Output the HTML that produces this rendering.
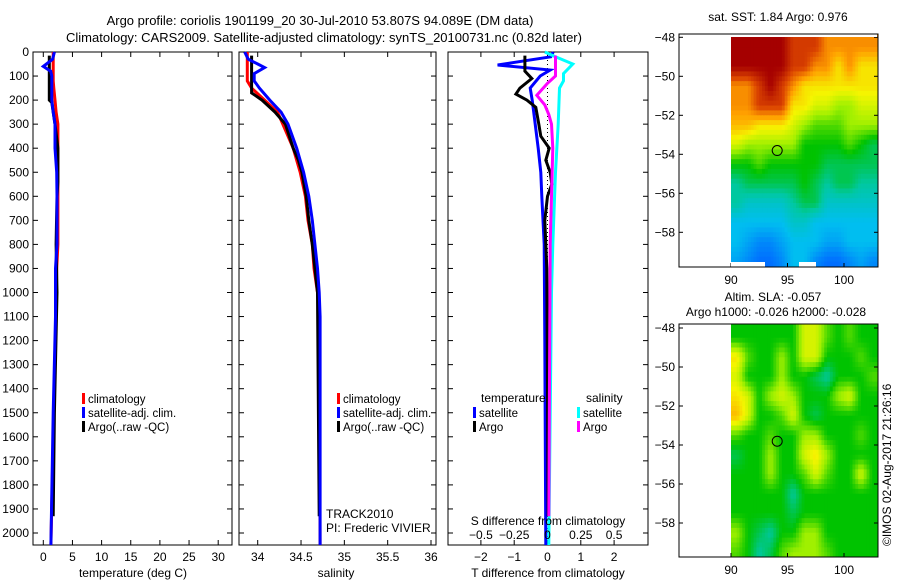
<!DOCTYPE html>
<html><head><meta charset="utf-8">
<style>
html,body{margin:0;padding:0;background:#fff;}
svg{display:block;font-family:"Liberation Sans",sans-serif;}
text{font-size:12px;fill:#000;}
</style></head>
<body>
<svg id="chart" width="900" height="580" viewBox="0 0 900 580" xmlns="http://www.w3.org/2000/svg">
<text x="320" y="25" text-anchor="middle" style="font-size:13px">Argo profile: coriolis 1901199_20 30-Jul-2010 53.807S 94.089E (DM data)</text>
<text x="324" y="42" text-anchor="middle" style="font-size:13px">Climatology: CARS2009. Satellite-adjusted climatology: synTS_20100731.nc (0.82d later)</text>
<g id="p1"></g>
<g id="p2"></g>
<g id="p3"></g>
<g id="m1"></g>
<g id="m2"></g>
<text transform="translate(891,546) rotate(-90)" style="font-size:12px">©IMOS 02-Aug-2017 21:26:16</text>
</svg>
<script>
// ---- profile data ----
const tClimDepth = [0,120,150,200,250,300,400,500,600,700,800,900,1100,1500,2050];
const tClim = [1.7,1.7,1.8,2.0,2.2,2.5,2.5,2.5,2.5,2.5,2.5,2.3,2.2,1.8,1.3];
const tSatDepth = [0,30,60,80,100,200,250,300,400,500,600,800,900,1100,1500,2050];
const tSat = [1.9,1.6,0.0,1.27,1.45,1.45,1.7,2.0,2.0,2.3,2.35,2.35,2.1,2.1,1.7,1.3];
const tArgoDepth = [15,200,210,300,400,540,600,800,1000,1500,1930];
const tArgo = [1.03,1.03,1.45,2.0,2.5,2.5,2.35,2.2,2.35,1.9,1.7];

const sClimDepth = [0,120,150,200,250,300,400,500,600,700,800,900,1000,1100,2050];
const sClim = [33.88,33.88,33.93,34.08,34.23,34.29,34.41,34.49,34.55,34.58,34.63,34.65,34.69,34.71,34.72];
const sSatDepth = [0,30,50,65,90,120,150,200,250,300,400,500,600,700,800,900,1000,1100,2050];
const sSat = [33.85,33.89,34.0,34.08,33.96,33.96,34.02,34.14,34.27,34.35,34.45,34.53,34.59,34.63,34.66,34.69,34.71,34.72,34.72];
const sArgoDepth = [15,170,180,200,250,300,400,450,500,600,700,800,1000,1930];
const sArgo = [33.93,33.93,33.97,34.05,34.2,34.32,34.41,34.47,34.51,34.56,34.59,34.63,34.69,34.71];

const dTSatDepth = [0,20,54,75,100,150,200,300,400,500,600,800,1200,2050];
const dTSat = [0.17,0.1,-1.5,0.08,-0.22,-0.52,-0.46,-0.37,-0.28,-0.2,-0.17,-0.1,-0.08,-0.05];
const dTArgoDepth = [15,80,110,150,175,200,230,300,350,400,450,500,550,600,700,900,1930];
const dTArgo = [-0.68,-0.68,-0.47,-0.83,-0.95,-0.62,-0.35,-0.26,-0.2,0.05,-0.05,0.08,0.13,0,-0.08,-0.02,0.02];
const dSSatDepth = [0,20,50,90,120,150,300,500,800,1000,2050];
const dSSat = [-0.02,0.06,0.19,0.12,0.12,0.09,0.08,0.06,0.04,0.03,0.01];
const dSArgoDepth = [15,100,130,180,220,260,300,400,600,800,1930];
const dSArgo = [0.06,0.06,0,-0.08,-0.02,0.01,0.03,0.04,0.03,0.02,0.01];

const depthTicks = [0,100,200,300,400,500,600,700,800,900,1000,1100,1200,1300,1400,1500,1600,1700,1800,1900,2000];
const tempTicks = [0,5,10,15,20,25,30];
const salTicks = [34,34.5,35,35.5,36];
const salTickLabels = ["34","34.5","35","35.5","36"];
const dTTicks = [-2,-1,0,1,2];
const dSTicks = [-0.5,-0.25,0,0.25,0.5];
const dSTickLabels = ["-0.5","-0.25","0","0.25","0.5"];

// ---- map data (index 0..10 on colour ramp), rows lat -48..-59, cols lon 90..102 ----
const mapLons = [90,91,92,93,94,95,96,97,98,99,100,101,102];
const mapLats = [-48,-49,-50,-51,-52,-53,-54,-55,-56,-57,-58,-59];
const sstGrid = [
[10,10,10,10,10,9,9,9,8,8,8,8,8],
[10,10,10,10,10,9,9,8,8,7,8,7,7],
[8,8,9,10,9,8,7,7,7,7,7,7,7],
[8,8,9,9,9,7,7,6.5,6.5,6,6,6.5,6.5],
[7.5,7.5,7,7,7,6.5,6,5.5,5.5,5.5,6,6,6],
[6.5,6,6,6,6,6,5,5,5,5,5.5,5,4.5],
[5,5,5.5,5,5,5,5,5,4.5,4.5,4.5,4.5,4.5],
[4,4.5,4.5,4.5,4.5,4.5,5,4.5,4,4.5,4.5,4,4],
[4,3.5,3.5,3.5,3.5,4,4.5,4.5,3.5,3.5,3.5,3.5,3.5],
[3,3,3,3,3,3.5,3.5,3,3,3,3,3,3],
[3,2.5,2,2,2.5,3,3,3,2.5,2.5,3,3,3],
[2.5,2,1.5,1.5,2,3,3,2,1.5,1.5,2,2.5,2]
];
const slaGrid = [
[5,5,5,5,5,5,6.5,6.5,5.5,5,5.5,5,5],
[7,5.5,5,5,6,5,6.5,6.5,5,5,5,5.5,5],
[6.5,5,5,5,6,5,5,4.5,4,5,5,5,5.5],
[7,6.5,5,6,6.5,6,5,5,5,6,6.5,5,5],
[7.5,6.5,5,5,5.5,6.5,5,4.5,5,5,5,5,5],
[5.5,5,5,5.5,5,5,6,6,5,5,5,5.5,5],
[4.5,5,5,6,5,5,6.5,7,6,5,5,5,5],
[5,5,5,6,5,5,5.5,6.5,5.5,5,5,6.5,5],
[5,5,5,5,5,4,5,5,5,5,5,5,5],
[5,5,5,5,5,4.5,5,5,5,5,5,5,5],
[6,5,4.5,4,5,5,6,6,5,5,5,5,5],
[5.5,5,4,4.5,5.5,6,6,6,5.5,5,5,5,5]
];
const mapLatTicks = [-48,-50,-52,-54,-56,-58];
const mapLonTicks = [90,95,100];
const argoLon = 94.089, argoLat = -53.807;

const NS = "http://www.w3.org/2000/svg";
function mk(parent, tag, attrs, txt){
  const e = document.createElementNS(NS, tag);
  for (const k in attrs) e.setAttribute(k, attrs[k]);
  if (txt !== undefined) e.textContent = txt;
  parent.appendChild(e);
  return e;
}
const Y0 = 52, Y1 = 545;
const yD = d => Y0 + d * 0.2405;

function frame(g, x0, x1, xTicks, xScale, name){
  const r = mk(g,'rect',{x:x0,y:Y0,width:x1-x0,height:Y1-Y0,fill:'none',stroke:'#000','stroke-width':1});
  
  
  depthTicks.forEach(d=>{
    const t1 = mk(g,'line',{x1:x0,x2:x0+5,y1:yD(d),y2:yD(d),stroke:'#000'});
    
    
    const t2 = mk(g,'line',{x1:x1-5,x2:x1,y1:yD(d),y2:yD(d),stroke:'#000'});
    
    
  });
  xTicks.forEach(v=>{
    const x = xScale(v);
    const a = mk(g,'line',{x1:x,x2:x,y1:Y1,y2:Y1-5,stroke:'#000'});
    
    
    const b = mk(g,'line',{x1:x,x2:x,y1:Y0,y2:Y0+5,stroke:'#000'});
    
    
  });
}
function line(g, xs, ds, xScale, color, name){
  const pts = xs.map((v,i)=>xScale(v).toFixed(1)+','+yD(ds[i]).toFixed(1)).join(' ');
  const p = mk(g,'polyline',{points:pts,fill:'none',stroke:color,'stroke-width':3,'stroke-linejoin':'miter'});
  
  
}
function legend(g, x, y, color, label, name){
  const r = mk(g,'rect',{x:x,y:y-6,width:3,height:11,fill:color});
  
  
  const t = mk(g,'text',{x:x+6,y:y+4,style:'font-size:11.5px'},label);
  
  
}
function txt(g, x, y, s, anchor, name){
  const t = mk(g,'text',{x:x,y:y,'text-anchor':anchor||'middle'},s);
  
  
  return t;
}

// Panel 1
const p1 = document.getElementById('p1');
const xT = v => 43.3 + v*5.83;
frame(p1, 33, 232, tempTicks, xT, 'temperature');
depthTicks.forEach(d=> txt(p1, 29, yD(d)+4, String(d), 'end', 'depth-tick-label'));
tempTicks.forEach(v=> txt(p1, xT(v), 561, String(v), 'middle', 'temp-tick-label'));
txt(p1, 133, 577, 'temperature (deg C)', 'middle', 'x-axis-title-temperature');
line(p1, tClim, tClimDepth, xT, '#ff0000', 'temp-climatology-line');
line(p1, tArgo, tArgoDepth, xT, '#000000', 'temp-argo-line');
line(p1, tSat, tSatDepth, xT, '#0000ff', 'temp-satellite-line');
legend(p1, 82, 399, '#ff0000', 'climatology', 'legend-climatology');
legend(p1, 82, 413, '#0000ff', 'satellite-adj. clim.', 'legend-satellite');
legend(p1, 82, 427, '#000000', 'Argo(..raw -QC)', 'legend-argo');

// Panel 2
const p2 = document.getElementById('p2');
const xS = v => 257.7 + (v-34)*86.65;
frame(p2, 239, 436, salTicks, xS, 'salinity');
salTicks.forEach((v,i)=> txt(p2, xS(v), 561, salTickLabels[i], 'middle', 'sal-tick-label'));
txt(p2, 336, 577, 'salinity', 'middle', 'x-axis-title-salinity');
line(p2, sClim, sClimDepth, xS, '#ff0000', 'sal-climatology-line');
line(p2, sArgo, sArgoDepth, xS, '#000000', 'sal-argo-line');
line(p2, sSat, sSatDepth, xS, '#0000ff', 'sal-satellite-line');
legend(p2, 337, 399, '#ff0000', 'climatology', 'legend-sal-climatology');
legend(p2, 337, 413, '#0000ff', 'satellite-adj. clim.', 'legend-sal-satellite');
legend(p2, 337, 427, '#000000', 'Argo(..raw -QC)', 'legend-sal-argo');
txt(p2, 326, 518, 'TRACK2010', 'start', 'project-label');
txt(p2, 326, 532, 'PI: Frederic VIVIER', 'start', 'pi-label');

// Panel 3
const p3 = document.getElementById('p3');
const xDT = v => 547.5 + v*33.3;
const xDS = v => 547.5 + v*133.2;
frame(p3, 448, 648, dTTicks, xDT, 'difference');
const dz = mk(p3,'line',{x1:547.5,x2:547.5,y1:Y0,y2:Y1,stroke:'#000','stroke-dasharray':'1,3'});


dTTicks.forEach(v=> txt(p3, xDT(v), 561, v<0?'\u2212'+Math.abs(v):String(v), 'middle', 'dT-tick-label'));
txt(p3, 548, 577, 'T difference from climatology', 'middle', 'x-axis-title-T-diff');
line(p3, dTSat, dTSatDepth, xDT, '#0000ff', 'dT-satellite-line');
line(p3, dTArgo, dTArgoDepth, xDT, '#000000', 'dT-argo-line');
line(p3, dSSat, dSSatDepth, xDS, '#00ffff', 'dS-satellite-line');
line(p3, dSArgo, dSArgoDepth, xDS, '#ff00ff', 'dS-argo-line');
txt(p3, 548, 525, 'S difference from climatology', 'middle', 'x-axis-title-S-diff');
dSTicks.forEach((v,i)=> txt(p3, xDS(v), 539, dSTickLabels[i].replace('-','\u2212'), 'middle', 'dS-tick-label'));
txt(p3, 481, 402, 'temperature', 'start', 'legend-temperature-header');
legend(p3, 473, 413, '#0000ff', 'satellite', 'legend-dT-satellite');
legend(p3, 473, 427, '#000000', 'Argo', 'legend-dT-argo');
txt(p3, 586, 402, 'salinity', 'start', 'legend-salinity-header');
legend(p3, 577, 413, '#00ffff', 'satellite', 'legend-dS-satellite');
legend(p3, 577, 427, '#ff00ff', 'Argo', 'legend-dS-argo');

// ---- maps ----
const ramp = [[0,[0,50,190]],[1.5,[0,110,255]],[3,[0,190,240]],[4,[0,200,160]],[5,[0,195,0]],[6,[160,240,0]],[6.8,[245,245,0]],[7.8,[255,160,0]],[8.8,[220,70,0]],[10,[165,0,0]]];
function col(v){
  for (let i=1;i<ramp.length;i++){
    if (v<=ramp[i][0]){
      const a=ramp[i-1],b=ramp[i],t=(v-a[0])/(b[0]-a[0]);
      const c=a[1].map((x,k)=>Math.round(x+(b[1][k]-x)*t));
      return 'rgb('+c.join(',')+')';
    }
  }
  return 'rgb(165,0,0)';
}
function sample(grid, fr, fc){
  const nr=grid.length, nc=grid[0].length;
  fr=Math.max(0,Math.min(nr-1,fr)); fc=Math.max(0,Math.min(nc-1,fc));
  const r0=Math.floor(fr), c0=Math.floor(fc), r1=Math.min(nr-1,r0+1), c1=Math.min(nc-1,c0+1);
  const tr=fr-r0, tc=fc-c0;
  const a=grid[r0][c0]*(1-tc)+grid[r0][c1]*tc, b=grid[r1][c0]*(1-tc)+grid[r1][c1]*tc;
  return a*(1-tr)+b*tr;
}
function drawMap(id, top, bottom, lat48y, grid){
  const g = document.getElementById(id);
  const L=679, R=878, lonX = lon => 731 + (lon-90)*11.3;
  const latY = lat => lat48y + (-48-lat)*19.5;
  const cid = id+'clip';
  const cp = mk(g,'clipPath',{id:cid});
  mk(cp,'rect',{x:731,y:top,width:R-731,height:bottom-top});
  const cells = mk(g,'g',{'clip-path':'url(#'+cid+')'});
  
  
  const step=0.25;
  for (let lat=mapLats[0]+0.5; lat>mapLats[mapLats.length-1]-1; lat-=step){
    for (let lon=mapLons[0]; lon<mapLons[mapLons.length-1]+1; lon+=step){
      const fr = (mapLats[0]-(lat-step/2)) - 0.5 + 0.5; // row index (cell centres at lat-0.5... approx)
      const fc = (lon+step/2) - mapLons[0] - 0.5;
      const v = sample(grid, (mapLats[0]-(lat-step/2))-0.5, fc);
      const rc = mk(cells,'rect',{x:lonX(lon).toFixed(2),y:latY(lat).toFixed(2),width:(step*11.3+0.6).toFixed(2),height:(step*19.5+0.6).toFixed(2),fill:col(v)});
      
      
    }
  }
  const frm = mk(g,'rect',{x:L,y:top,width:R-L,height:bottom-top,fill:'none',stroke:'#000'});
  
  
  mapLatTicks.forEach(v=>{
    const y=latY(v);
    const a=mk(g,'line',{x1:L,x2:L+4,y1:y,y2:y,stroke:'#000'});
    
    
    const b=mk(g,'line',{x1:R-4,x2:R,y1:y,y2:y,stroke:'#000'});
    
    
    txt(g, 675, y+4, '\u2212'+Math.abs(v), 'end', 'lat-tick-label');
  });
  mapLonTicks.forEach(v=>{
    const x=lonX(v);
    const a=mk(g,'line',{x1:x,x2:x,y1:bottom,y2:bottom-4,stroke:'#000'});
    
    
    txt(g, x, bottom+17, String(v), 'middle', 'lon-tick-label');
  });
  const m = mk(g,'circle',{cx:lonX(argoLon),cy:latY(argoLat),r:5,fill:'none',stroke:'#000'});
  
  
  return {g, lonX, latY};
}
const mm1 = drawMap('m1', 34, 267, 37.3, sstGrid);
txt(mm1.g, 778, 21, 'sat. SST: 1.84  Argo: 0.976', 'middle', 'sst-map-title');
const gap0 = mk(mm1.g,'rect',{x:731,y:34.5,width:146,height:2.5,fill:'#fff'});


const gap1 = mk(mm1.g,'rect',{x:731,y:262,width:34,height:4.5,fill:'#fff'});


const gap2 = mk(mm1.g,'rect',{x:799,y:262,width:17,height:4.5,fill:'#fff'});


const mm2 = drawMap('m2', 324, 557, 328, slaGrid);
txt(mm2.g, 773, 301, 'Altim. SLA: -0.057', 'middle', 'sla-map-title');
txt(mm2.g, 776, 316, 'Argo h1000: -0.026 h2000: -0.028', 'middle', 'sla-map-subtitle');
</script>
</body></html>
